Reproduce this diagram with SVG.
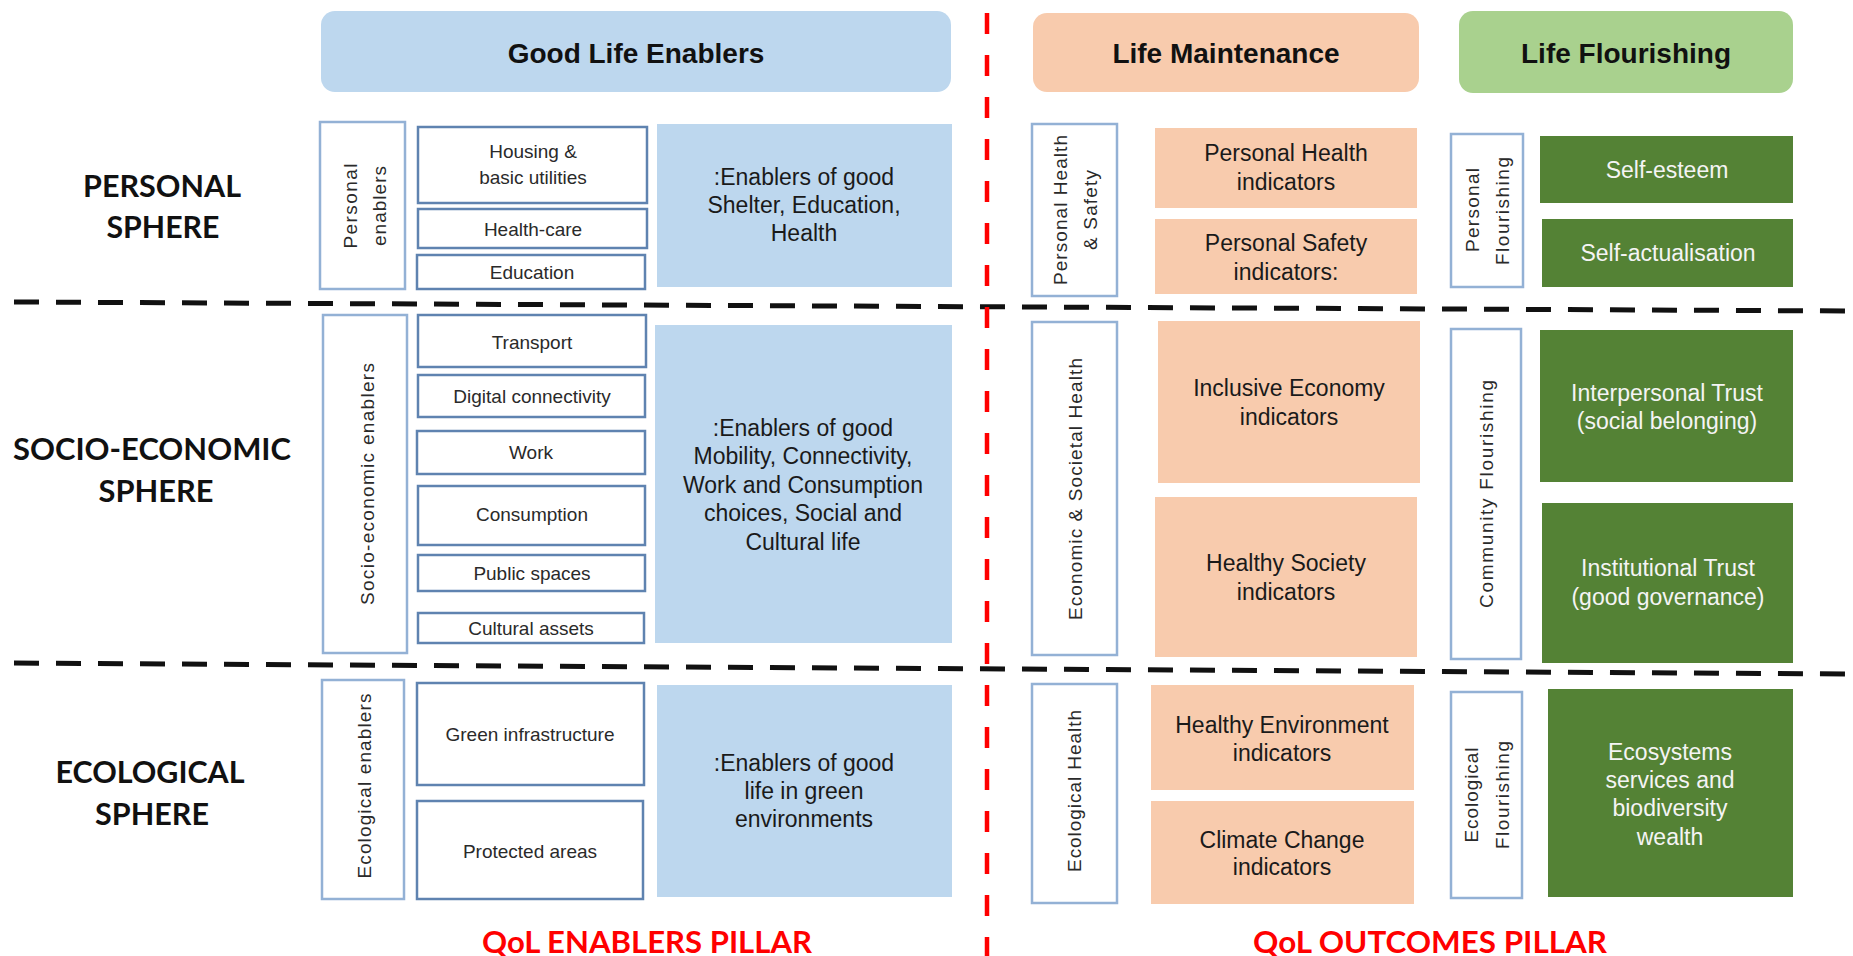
<svg xmlns="http://www.w3.org/2000/svg" width="1853" height="956" viewBox="0 0 1853 956">
<style>
.hdr{font-family:"Liberation Sans",Arial,sans-serif;font-weight:bold;font-size:28px;fill:#111;text-anchor:middle}
.row{font-family:Lato,"Liberation Sans",sans-serif;font-weight:bold;font-size:31px;fill:#111;text-anchor:middle}
.pillar{font-family:Lato,"Liberation Sans",sans-serif;font-weight:bold;font-size:30px;fill:#ff0000;text-anchor:middle}
.t19{font-family:"Liberation Sans",Arial,sans-serif;font-size:19px;fill:#2a2a2a;text-anchor:middle}
.t23{font-family:"Liberation Sans",Arial,sans-serif;font-size:23px;fill:#1a1a1a;text-anchor:middle}
.tw{font-family:"Liberation Sans",Arial,sans-serif;font-size:23px;fill:#f4f4f4;text-anchor:middle}
.lab{fill:#fff;stroke:#93b1d5;stroke-width:2.5}
.item{fill:#fff;stroke:#5f83b0;stroke-width:2.5}
.blue{fill:#bdd7ee}
.peach{fill:#f8cbad}
.green{fill:#548235}
.sep{fill:none;stroke:#111;stroke-width:5;stroke-dasharray:25 17}
.pil{fill:none;stroke:#ff0000;stroke-width:4.5;stroke-dasharray:21 21}
</style>

<g id="connectors">
  <line class="sep" x1="14" y1="302" x2="1853" y2="311"/>
  <line class="sep" x1="14" y1="663" x2="1853" y2="674"/>
  <line class="pil" x1="987" y1="13" x2="987" y2="956"/>
</g>

<g id="hdr-enablers">
  <rect x="321" y="11" width="630" height="81" rx="14" class="blue"/>
  <text class="hdr" x="636" y="63">Good Life Enablers</text>
</g>
<g id="hdr-maintenance">
  <rect x="1033" y="13" width="386" height="79" rx="14" class="peach"/>
  <text class="hdr" x="1226" y="63">Life Maintenance</text>
</g>
<g id="hdr-flourishing">
  <rect x="1459" y="11" width="334" height="82" rx="14" fill="#a9d18e"/>
  <text class="hdr" x="1626" y="63">Life Flourishing</text>
</g>

<g id="row-personal">
  <text class="row" x="162" y="197" textLength="158" lengthAdjust="spacingAndGlyphs">PERSONAL</text>
  <text class="row" x="163" y="238" textLength="113" lengthAdjust="spacingAndGlyphs">SPHERE</text>
</g>
<g id="row-socio">
  <text class="row" x="152" y="460" textLength="278" lengthAdjust="spacingAndGlyphs">SOCIO-ECONOMIC</text>
  <text class="row" x="156" y="502" textLength="115" lengthAdjust="spacingAndGlyphs">SPHERE</text>
</g>
<g id="row-ecological">
  <text class="row" x="150" y="783" textLength="189" lengthAdjust="spacingAndGlyphs">ECOLOGICAL</text>
  <text class="row" x="152" y="825" textLength="114" lengthAdjust="spacingAndGlyphs">SPHERE</text>
</g>

<!-- Personal enablers -->
<g id="personal-enablers">
  <rect x="320" y="122" width="85" height="167" class="lab"/>
  <text class="t19" transform="translate(357,206) rotate(-90)" textLength="85">Personal</text>
  <text class="t19" transform="translate(386,206) rotate(-90)" textLength="80">enablers</text>
</g>
<g id="housing">
  <rect x="418" y="127" width="229" height="76" class="item"/>
  <text class="t19" x="533" y="158">Housing &amp;</text>
  <text class="t19" x="533" y="184">basic utilities</text>
</g>
<g id="health-care">
  <rect x="418" y="209" width="229" height="39" class="item"/>
  <text class="t19" x="533" y="236">Health-care</text>
</g>
<g id="education">
  <rect x="417" y="255" width="228" height="34" class="item"/>
  <text class="t19" x="532" y="279">Education</text>
</g>
<g id="personal-enablers-desc">
  <rect x="657" y="124" width="295" height="163" class="blue"/>
  <text class="t23" x="804" y="185">:Enablers of good</text>
  <text class="t23" x="804" y="213">Shelter, Education,</text>
  <text class="t23" x="804" y="241">Health</text>
</g>

<!-- Socio-economic enablers -->
<g id="socio-enablers">
  <rect x="323" y="315" width="84" height="338" class="lab"/>
  <text class="t19" transform="translate(374,484) rotate(-90)" textLength="242">Socio-economic enablers</text>
</g>
<g id="transport">
  <rect x="418" y="315" width="228" height="52" class="item"/>
  <text class="t19" x="532" y="349">Transport</text>
</g>
<g id="digital">
  <rect x="418" y="375" width="227" height="42" class="item"/>
  <text class="t19" x="532" y="403">Digital connectivity</text>
</g>
<g id="work">
  <rect x="417" y="431" width="228" height="43" class="item"/>
  <text class="t19" x="531" y="459">Work</text>
</g>
<g id="consumption">
  <rect x="418" y="486" width="227" height="59" class="item"/>
  <text class="t19" x="532" y="521">Consumption</text>
</g>
<g id="public-spaces">
  <rect x="418" y="555" width="227" height="36" class="item"/>
  <text class="t19" x="532" y="580">Public spaces</text>
</g>
<g id="cultural-assets">
  <rect x="418" y="613" width="226" height="30" class="item"/>
  <text class="t19" x="531" y="635">Cultural assets</text>
</g>
<g id="socio-enablers-desc">
  <rect x="655" y="325" width="297" height="318" class="blue"/>
  <text class="t23" x="803" y="436">:Enablers of good</text>
  <text class="t23" x="803" y="464">Mobility, Connectivity,</text>
  <text class="t23" x="803" y="493">Work and Consumption</text>
  <text class="t23" x="803" y="521">choices, Social and</text>
  <text class="t23" x="803" y="550">Cultural life</text>
</g>

<!-- Ecological enablers -->
<g id="eco-enablers">
  <rect x="322" y="680" width="82" height="219" class="lab"/>
  <text class="t19" transform="translate(371,786) rotate(-90)" textLength="185">Ecological enablers</text>
</g>
<g id="green-infra">
  <rect x="417" y="683" width="227" height="102" class="item"/>
  <text class="t19" x="530" y="741">Green infrastructure</text>
</g>
<g id="protected">
  <rect x="417" y="801" width="226" height="98" class="item"/>
  <text class="t19" x="530" y="858">Protected areas</text>
</g>
<g id="eco-enablers-desc">
  <rect x="657" y="685" width="295" height="212" class="blue"/>
  <text class="t23" x="804" y="771">:Enablers of good</text>
  <text class="t23" x="804" y="799">life in green</text>
  <text class="t23" x="804" y="827">environments</text>
</g>

<g id="pillar-enablers">
  <text class="pillar" x="647" y="953" textLength="330" lengthAdjust="spacingAndGlyphs">QoL ENABLERS PILLAR</text>
</g>

<!-- Outcomes: personal -->
<g id="personal-health-safety">
  <rect x="1032" y="124" width="85" height="172" class="lab"/>
  <text class="t19" transform="translate(1067,210) rotate(-90)" textLength="150">Personal Health</text>
  <text class="t19" transform="translate(1097,210) rotate(-90)" textLength="80">&amp; Safety</text>
</g>
<g id="personal-health-ind">
  <rect x="1155" y="128" width="262" height="80" class="peach"/>
  <text class="t23" x="1286" y="161">Personal Health</text>
  <text class="t23" x="1286" y="190">indicators</text>
</g>
<g id="personal-safety-ind">
  <rect x="1155" y="219" width="262" height="75" class="peach"/>
  <text class="t23" x="1286" y="251">Personal Safety</text>
  <text class="t23" x="1286" y="280">indicators:</text>
</g>
<g id="personal-flourishing">
  <rect x="1451" y="134" width="72" height="153" class="lab"/>
  <text class="t19" transform="translate(1479,210) rotate(-90)" textLength="84">Personal</text>
  <text class="t19" transform="translate(1509,211) rotate(-90)" textLength="108">Flourishing</text>
</g>
<g id="self-esteem">
  <rect x="1540" y="136" width="253" height="67" class="green"/>
  <text class="tw" x="1667" y="178">Self-esteem</text>
</g>
<g id="self-actualisation">
  <rect x="1542" y="219" width="251" height="68" class="green"/>
  <text class="tw" x="1668" y="261">Self-actualisation</text>
</g>

<!-- Outcomes: socio-economic -->
<g id="econ-societal-health">
  <rect x="1032" y="322" width="85" height="333" class="lab"/>
  <text class="t19" transform="translate(1082,489) rotate(-90)" textLength="262">Economic &amp; Societal Health</text>
</g>
<g id="inclusive-economy">
  <rect x="1158" y="321" width="262" height="162" class="peach"/>
  <text class="t23" x="1289" y="396">Inclusive Economy</text>
  <text class="t23" x="1289" y="425">indicators</text>
</g>
<g id="healthy-society">
  <rect x="1155" y="497" width="262" height="160" class="peach"/>
  <text class="t23" x="1286" y="571">Healthy Society</text>
  <text class="t23" x="1286" y="600">indicators</text>
</g>
<g id="community-flourishing">
  <rect x="1451" y="329" width="70" height="330" class="lab"/>
  <text class="t19" transform="translate(1493,494) rotate(-90)" textLength="228">Community Flourishing</text>
</g>
<g id="interpersonal-trust">
  <rect x="1540" y="330" width="253" height="152" class="green"/>
  <text class="tw" x="1667" y="401">Interpersonal Trust</text>
  <text class="tw" x="1667" y="429">(social belonging)</text>
</g>
<g id="institutional-trust">
  <rect x="1542" y="503" width="251" height="160" class="green"/>
  <text class="tw" x="1668" y="576">Institutional Trust</text>
  <text class="tw" x="1668" y="605">(good governance)</text>
</g>

<!-- Outcomes: ecological -->
<g id="ecological-health">
  <rect x="1032" y="684" width="85" height="219" class="lab"/>
  <text class="t19" transform="translate(1081,791) rotate(-90)" textLength="162">Ecological Health</text>
</g>
<g id="healthy-environment">
  <rect x="1151" y="685" width="263" height="105" class="peach"/>
  <text class="t23" x="1282" y="733">Healthy Environment</text>
  <text class="t23" x="1282" y="761">indicators</text>
</g>
<g id="climate-change">
  <rect x="1151" y="801" width="263" height="103" class="peach"/>
  <text class="t23" x="1282" y="848">Climate Change</text>
  <text class="t23" x="1282" y="875">indicators</text>
</g>
<g id="ecological-flourishing">
  <rect x="1451" y="692" width="71" height="206" class="lab"/>
  <text class="t19" transform="translate(1478,795) rotate(-90)" textLength="95">Ecological</text>
  <text class="t19" transform="translate(1509,795) rotate(-90)" textLength="108">Flourishing</text>
</g>
<g id="ecosystems">
  <rect x="1548" y="689" width="245" height="208" class="green"/>
  <text class="tw" x="1670" y="760">Ecosystems</text>
  <text class="tw" x="1670" y="788">services and</text>
  <text class="tw" x="1670" y="816">biodiversity</text>
  <text class="tw" x="1670" y="845">wealth</text>
</g>

<g id="pillar-outcomes">
  <text class="pillar" x="1430" y="953" textLength="354" lengthAdjust="spacingAndGlyphs">QoL OUTCOMES PILLAR</text>
</g>
</svg>
